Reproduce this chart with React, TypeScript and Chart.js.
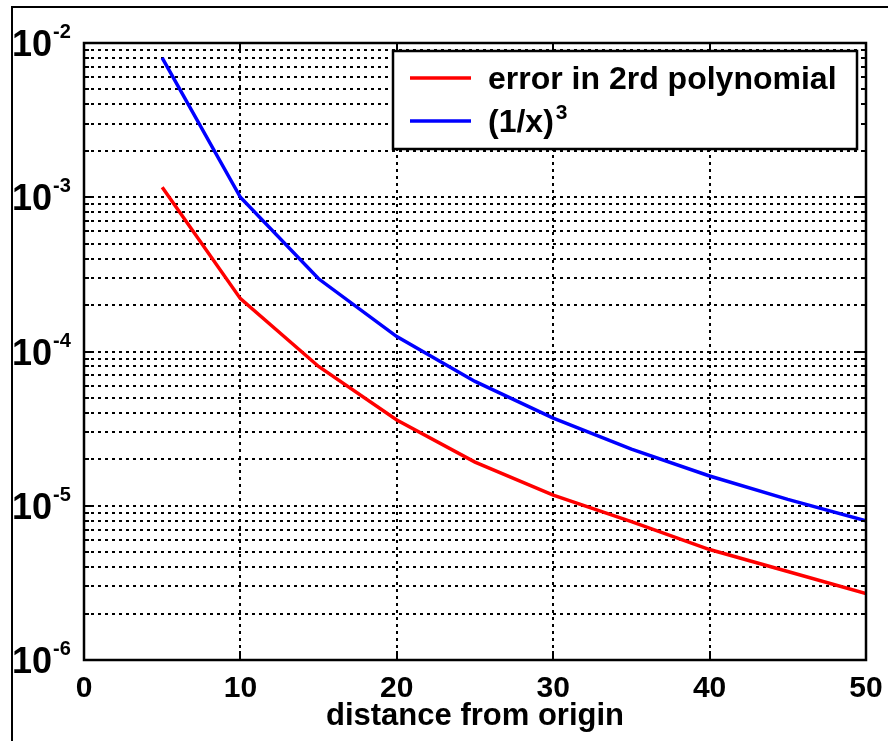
import React, { useEffect, useRef } from 'react';
import { Chart, registerables } from 'chart.js';

Chart.register(...registerables);

// ---- data ----
const distances = [5, 10, 15, 20, 25, 30, 35, 40, 45, 50];
const polyError = [1.16e-3, 2.2e-4, 8.0e-5, 3.6e-5, 1.92e-5, 1.17e-5, 7.9e-6, 5.2e-6, 3.75e-6, 2.7e-6];
const inverseCube = [8.0e-3, 1.0e-3, 2.96e-4, 1.25e-4, 6.4e-5, 3.7e-5, 2.33e-5, 1.56e-5, 1.1e-5, 8.0e-6];

const xTickValues = [0, 10, 20, 30, 40, 50];
const yDecadeExponents = [-6, -5, -4, -3, -2];
const yMinorMultipliers = [1, 2, 3, 4, 5, 6, 7, 8, 9];

const legendLabels = ['error in 2rd polynomial', '(1/x)'];
const legendSuperscripts = ['', '3'];
const xAxisTitle = 'distance from origin';

const FONT = '"Liberation Sans", Arial, Helvetica, sans-serif';

function isDecade(v: number) {
  const l = Math.log10(v);
  return Math.abs(l - Math.round(l)) < 1e-9;
}

const decorPlugin = {
  id: 'decor',
  beforeDraw(chart: any) {
    const ctx = chart.ctx;
    ctx.save();
    ctx.fillStyle = '#ffffff';
    ctx.fillRect(0, 0, chart.width, chart.height);
    ctx.strokeStyle = '#000';
    ctx.lineWidth = 2;
    ctx.beginPath();
    ctx.moveTo(12, chart.height);
    ctx.lineTo(12, 7);
    ctx.lineTo(chart.width, 7);
    ctx.stroke();
    ctx.restore();
  },
  afterDraw(chart: any) {
    const { ctx, chartArea: a, scales } = chart;
    const xs = scales.x;
    const ys = scales.y;
    ctx.save();
    ctx.setLineDash([]);
    ctx.strokeStyle = '#000';
    ctx.lineWidth = 2;
    // inward tick marks
    ys.ticks.forEach((t: any) => {
      const y = Math.round(ys.getPixelForValue(t.value));
      const len = isDecade(t.value) ? 9 : 5;
      ctx.beginPath();
      ctx.moveTo(a.left, y);
      ctx.lineTo(a.left + len, y);
      ctx.moveTo(a.right, y);
      ctx.lineTo(a.right - len, y);
      ctx.stroke();
    });
    xs.ticks.forEach((t: any) => {
      const x = Math.round(xs.getPixelForValue(t.value));
      ctx.beginPath();
      ctx.moveTo(x, a.bottom);
      ctx.lineTo(x, a.bottom - 9);
      ctx.moveTo(x, a.top);
      ctx.lineTo(x, a.top + 9);
      ctx.stroke();
    });
    // plot box
    ctx.lineWidth = 2.5;
    ctx.strokeRect(a.left, a.top, a.right - a.left, a.bottom - a.top);

    // y tick labels 10^e
    ctx.fillStyle = '#000';
    ctx.textAlign = 'left';
    ctx.textBaseline = 'alphabetic';
    yDecadeExponents.forEach((e) => {
      const y = ys.getPixelForValue(Math.pow(10, e));
      ctx.font = `bold 36px ${FONT}`;
      ctx.fillText('10', 12, y + 13);
      const w = ctx.measureText('10').width;
      ctx.font = `bold 20px ${FONT}`;
      ctx.fillText(String(e), 12 + w + 1, y - 5);
    });

    // x tick labels
    ctx.textAlign = 'center';
    ctx.font = `bold 30px ${FONT}`;
    xTickValues.forEach((v) => {
      const x = xs.getPixelForValue(v);
      ctx.fillText(String(v), x, 697);
    });

    // x title
    ctx.font = `bold 31px ${FONT}`;
    ctx.fillText(xAxisTitle, (a.left + a.right) / 2, 725);

    // legend
    const lx = 393, ly = 51, lw = 464, lh = 98;
    ctx.fillStyle = '#fff';
    ctx.fillRect(lx, ly, lw, lh);
    ctx.lineWidth = 2.5;
    ctx.strokeStyle = '#000';
    ctx.strokeRect(lx, ly, lw, lh);
    const rowY = [78, 121];
    chart.data.datasets.forEach((ds: any, i: number) => {
      const y = rowY[i];
      ctx.strokeStyle = ds.borderColor;
      ctx.lineWidth = 3.5;
      ctx.beginPath();
      ctx.moveTo(410, y);
      ctx.lineTo(471, y);
      ctx.stroke();
      ctx.fillStyle = '#000';
      ctx.textAlign = 'left';
      ctx.font = `bold 32px ${FONT}`;
      ctx.fillText(legendLabels[i], 488, y + 11);
      if (legendSuperscripts[i]) {
        const w = ctx.measureText(legendLabels[i]).width;
        ctx.font = `bold 21px ${FONT}`;
        ctx.fillText(legendSuperscripts[i], 488 + w + 2, y - 2);
      }
    });
    ctx.restore();
  },
};

export default function App() {
  const ref = useRef<HTMLCanvasElement | null>(null);
  useEffect(() => {
    if (!ref.current) return;
    const chart = new Chart(ref.current, {
      type: 'line',
      data: {
        datasets: [
          {
            label: legendLabels[0],
            data: distances.map((x, i) => ({ x, y: polyError[i] })),
            borderColor: '#ff0000',
            borderWidth: 3.5,
            pointRadius: 0,
            tension: 0,
            fill: false,
          },
          {
            label: legendLabels[1] + legendSuperscripts[1],
            data: distances.map((x, i) => ({ x, y: inverseCube[i] })),
            borderColor: '#0000ff',
            borderWidth: 3.5,
            pointRadius: 0,
            tension: 0,
            fill: false,
          },
        ],
      },
      options: {
        responsive: false,
        animation: false,
        events: [],
        devicePixelRatio: 1,
        layout: { padding: { left: 84, top: 43, right: 22, bottom: 81 } },
        plugins: { legend: { display: false }, tooltip: { enabled: false } },
        scales: {
          x: {
            type: 'linear',
            min: 0,
            max: 50,
            afterBuildTicks: (scale: any) => {
              scale.ticks = xTickValues.map((v) => ({ value: v }));
            },
            ticks: { display: false },
            grid: { color: '#000', lineWidth: 2, drawTicks: false },
            border: { display: false, dash: [3, 4] },
          },
          y: {
            type: 'logarithmic',
            min: 1e-6,
            max: 1e-2,
            afterBuildTicks: (scale: any) => {
              const t: any[] = [];
              yDecadeExponents.forEach((e, k) => {
                if (k === yDecadeExponents.length - 1) {
                  t.push({ value: Math.pow(10, e) });
                } else {
                  yMinorMultipliers.forEach((m) => t.push({ value: m * Math.pow(10, e) }));
                }
              });
              scale.ticks = t;
            },
            ticks: { display: false, autoSkip: false },
            grid: { color: '#000', lineWidth: 2, drawTicks: false },
            border: { display: false, dash: [3, 4] },
          },
        },
      } as any,
      plugins: [decorPlugin],
    });
    return () => chart.destroy();
  }, []);
  return (
    <div style={{ position: 'absolute', left: 0, top: 0, width: 888, height: 741 }}>
      <canvas ref={ref} width={888} height={741} style={{ display: 'block' }} />
    </div>
  );
}
